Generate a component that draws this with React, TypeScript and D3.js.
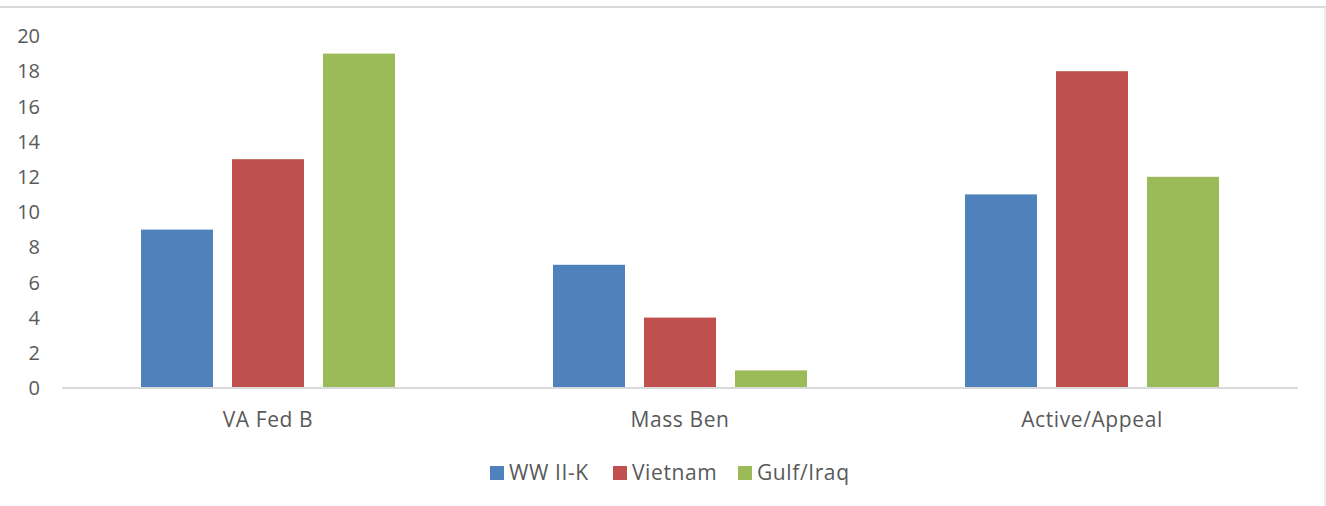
import React from "react";
import * as d3 from "d3";

const categories = ["VA Fed B", "Mass Ben", "Active/Appeal"];
const seriesNames = ["WW II-K", "Vietnam", "Gulf/Iraq"];
const wwIIK = [9, 7, 11];
const vietnam = [13, 4, 18];
const gulfIraq = [19, 1, 12];
const yTicks = [0, 2, 4, 6, 8, 10, 12, 14, 16, 18, 20];
const colors = ["#4f81bd", "#c0504d", "#9bbb59"];

const seriesValues = [wwIIK, vietnam, gulfIraq];

export default function App() {
  const W = 1326, H = 506;
  const left = 62, right = 1298, top = 36, bottom = 388;
  const font = "'Open Sans', 'Noto Sans', sans-serif";
  const x = d3.scaleBand<string>().domain(categories).range([left, right]).paddingInner(0).paddingOuter(0);
  const y = d3.scaleLinear().domain([0, 20]).range([bottom, top]);
  const barW = 72, gap = 19;
  const groupW = barW * 3 + gap * 2;

  return (
    <svg width={W} height={H} style={{ position: "absolute", left: 0, top: 0 }}>
      <rect x={0} y={0} width={W} height={H} fill="#fff" />
      <line x1={0} x2={W} y1={7} y2={7} stroke="#d9d9d9" strokeWidth={2} />
      <line x1={W - 1} x2={W - 1} y1={7} y2={H} stroke="#e6e6e6" strokeWidth={1.5} />
      {yTicks.map((t) => (
        <text key={t} x={40} y={y(t)} dy="0.36em" textAnchor="end" fontSize={20} fill="#595959" fontFamily={font}>
          {t}
        </text>
      ))}
      {categories.map((c, ci) => {
        const cx = (x(c) as number) + x.bandwidth() / 2;
        const start = cx - groupW / 2;
        return (
          <g key={c}>
            {seriesValues.map((vals, si) => (
              <rect
                key={si}
                x={start + si * (barW + gap)}
                y={y(vals[ci])}
                width={barW}
                height={bottom - y(vals[ci])}
                fill={colors[si]}
              />
            ))}
            <text x={cx} y={427} textAnchor="middle" fontSize={21} letterSpacing={0.6} fill="#595959" fontFamily={font}>
              {c}
            </text>
          </g>
        );
      })}
      <line x1={left} x2={right} y1={bottom} y2={bottom} stroke="#d9d9d9" strokeWidth={2} />
      {seriesNames.map((n, i) => {
        const lx = [490, 613, 738][i];
        return (
          <g key={n}>
            <rect x={lx} y={466} width={14} height={14} fill={colors[i]} />
            <text x={lx + 19} y={480} fontSize={21} letterSpacing={0.6} fill="#595959" fontFamily={font}>
              {n}
            </text>
          </g>
        );
      })}
    </svg>
  );
}
